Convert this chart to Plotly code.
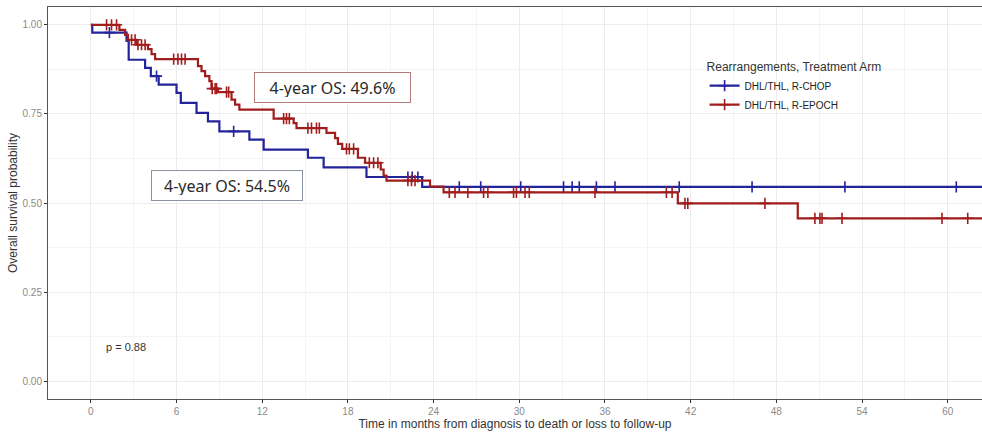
import numpy as np
import plotly.graph_objects as go

# ---- data ----
chop_time = [0, 0.1, 2.5, 2.65, 3.8, 4.2, 4.75, 6.0, 6.3, 7.4, 8.2, 9.0, 11.1, 12.1,
             15.2, 16.3, 19.3, 23.2, 62.6]
chop_surv = [1.0, 0.978, 0.955, 0.902, 0.879, 0.856, 0.832, 0.809, 0.781, 0.753, 0.729,
             0.701, 0.678, 0.650, 0.627, 0.600, 0.573, 0.545, 0.545]
chop_censor = [1.3, 4.6, 10.0, 22.2, 22.5, 22.9, 25.8, 27.3, 30.1, 33.1, 33.7, 34.2,
               35.4, 36.7, 41.2, 46.3, 52.8, 60.6]

epoch_time = [0, 2.0, 2.4, 2.6, 3.2, 4.0, 4.25, 4.5, 7.5, 7.75, 8.0, 8.3, 8.45, 8.9,
              9.85, 10.1, 10.4, 12.8, 14.2, 14.4, 16.5, 17.1, 17.3, 17.6, 18.7, 19.2,
              20.3, 20.5, 20.7, 23.75, 24.7, 41.1, 49.5, 62.6]
epoch_surv = [1.0, 0.986, 0.972, 0.958, 0.944, 0.932, 0.918, 0.904, 0.884, 0.870, 0.856,
              0.842, 0.821, 0.811, 0.790, 0.776, 0.762, 0.737, 0.724, 0.710, 0.697,
              0.682, 0.666, 0.652, 0.627, 0.613, 0.594, 0.577, 0.563, 0.546, 0.530,
              0.499, 0.457, 0.457]
epoch_censor = [1.1, 1.45, 1.8, 2.85, 3.1, 3.3, 3.55, 3.8, 5.8, 6.1, 6.35, 6.6, 8.5,
                8.7, 8.8, 9.5, 9.65, 13.5, 13.7, 13.9, 15.2, 15.45, 15.8, 16.0, 17.9,
                18.1, 18.4, 19.5, 19.8, 20.1, 22.2, 22.45, 22.7, 25.1, 25.5, 26.4,
                27.5, 27.8, 29.6, 29.8, 30.4, 30.7, 35.3, 40.3, 40.7, 41.6, 41.8,
                47.2, 50.7, 51.05, 51.2, 52.6, 59.6, 61.4]

group_names = ["DHL/THL, R-CHOP", "DHL/THL, R-EPOCH"]
x_ticks = [0, 6, 12, 18, 24, 30, 36, 42, 48, 54, 60]
y_ticks = [0.0, 0.25, 0.5, 0.75, 1.0]
os_labels = ["4-year OS: 54.5%", "4-year OS: 49.6%"]
p_label = "p = 0.88"

colors = ["#23239b", "#a11d1d"]

def surv_at(times, surv, t):
    idx = np.searchsorted(np.array(times), np.array(t), side="right") - 1
    return np.array(surv)[idx]

fig = go.Figure()
groups = [(chop_time, chop_surv, chop_censor), (epoch_time, epoch_surv, epoch_censor)]
for (tm, sv, cs), name, col in zip(groups, group_names, colors):
    fig.add_trace(go.Scatter(x=tm, y=sv, mode="lines", line=dict(color=col, width=2.2, shape="hv"),
                             name=name, showlegend=False, hoverinfo="skip"))
    fig.add_trace(go.Scatter(x=cs, y=surv_at(tm, sv, cs), mode="markers",
                             marker=dict(symbol="cross-thin", size=8, line=dict(color=col, width=1.6)),
                             showlegend=False, hoverinfo="skip"))
for name, col in zip(group_names, colors):
    fig.add_trace(go.Scatter(x=[None], y=[None], mode="lines+markers", name=name,
                             line=dict(color=col, width=2.2),
                             marker=dict(symbol="cross-thin", size=8, line=dict(color=col, width=1.6))))

grid_col = "#ececec"
fig.update_layout(
    width=982, height=433,
    margin=dict(l=48, r=0, t=7, b=34, autoexpand=False),
    paper_bgcolor="white", plot_bgcolor="white",
    font=dict(family="Liberation Sans, Arial, sans-serif", color="#333333"),
    xaxis=dict(range=[-3.0, 62.4], tickvals=x_ticks, ticks="outside", ticklen=3,
               tickcolor="#333333", tickfont=dict(size=10, color="#8a8a8a"),
               showgrid=True, gridcolor=grid_col, gridwidth=1, automargin=False,
               minor=dict(dtick=3, tick0=0, showgrid=True, gridcolor="#f4f4f4", gridwidth=1),
               showline=True, linecolor="#555555", linewidth=1, mirror=True, zeroline=False,
               title=dict(text="Time in months from diagnosis to death or loss to follow-up",
                          font=dict(size=12, color="#333333"), standoff=2)),
    yaxis=dict(range=[-0.05, 1.05], tickvals=y_ticks, tickformat=".2f", ticks="outside",
               ticklen=3, tickcolor="#333333", tickfont=dict(size=10, color="#8a8a8a"),
               showgrid=True, gridcolor=grid_col, gridwidth=1, automargin=False,
               minor=dict(dtick=0.125, tick0=0, showgrid=True, gridcolor="#f4f4f4", gridwidth=1),
               showline=True, linecolor="#555555", linewidth=1, mirror=True, zeroline=False,
               title=dict(text="Overall survival probability", font=dict(size=12, color="#333333"),
                          standoff=2)),
    legend=dict(title=dict(text="Rearrangements, Treatment Arm", font=dict(size=12, color="#333333")),
                x=0.703, xanchor="left", y=0.876, yanchor="top", bgcolor="rgba(255,255,255,0)",
                font=dict(size=10, color="#222222"), itemwidth=30, tracegroupgap=0),
)

fig.add_annotation(x=9.52, y=0.550, xref="x", yref="y", text=os_labels[0], showarrow=False,
                   font=dict(family="Noto Sans, sans-serif", size=16, color="#2a2a2a"),
                   bgcolor="white", bordercolor="#8a93a3", borderwidth=1, borderpad=5,
                   width=140, height=19)
fig.add_annotation(x=16.95, y=0.825, xref="x", yref="y", text=os_labels[1], showarrow=False,
                   font=dict(family="Noto Sans, sans-serif", size=16, color="#2a2a2a"),
                   bgcolor="white", bordercolor="#b57b7b", borderwidth=1, borderpad=5,
                   width=145, height=19)
fig.add_annotation(x=0.9, y=0.095, xref="x", yref="y", text=p_label, showarrow=False,
                   xanchor="left", font=dict(size=11, color="#333333"))

fig.write_html("out.html", config={"displayModeBar": False},
               post_script="document.body.style.margin='0';")
